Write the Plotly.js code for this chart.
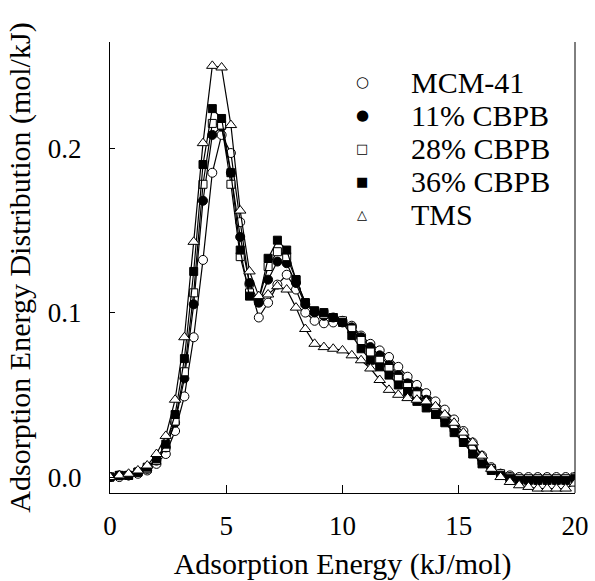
<!DOCTYPE html>
<html>
<head>
<meta charset="utf-8">
<script src="https://cdn.plot.ly/plotly-3.0.1.min.js"></script>
<style>html,body{margin:0;padding:0;background:#fff;}#chart{width:595px;height:581px;}</style>
</head>
<body>
<div id="chart"></div>
<script>
// Adsorption energy grid (kJ/mol)
const energy = [0,0.4,0.8,1.2,1.6,2.0,2.4,2.8,3.2,3.6,4.0,4.4,4.8,5.2,5.6,6.0,6.4,6.8,7.2,7.6,8.0,8.4,8.8,9.2,9.6,10.0,10.4,10.8,11.2,11.6,12.0,12.4,12.8,13.2,13.6,14.0,14.4,14.8,15.2,15.6,16.0,16.4,16.8,17.2,17.6,18.0,18.4,18.8,19.2,19.6,20.0];

const seriesNames = ["MCM-41", "11% CBPB", "28% CBPB", "36% CBPB", "TMS"];
const legendGlyphs = ["\u25CB", "\u25CF", "\u25A1", "\u25A0", "\u25B3"];

const mcm41 = [0.000,0.000,0.001,0.002,0.004,0.008,0.014,0.028,0.049,0.085,0.132,0.185,0.208,0.197,0.155,0.117,0.097,0.106,0.117,0.123,0.114,0.100,0.095,0.0935,0.094,0.094,0.092,0.086,0.081,0.077,0.073,0.067,0.061,0.056,0.051,0.046,0.041,0.035,0.028,0.021,0.013,0.006,0.002,0.001,0.000,0.000,0.000,0.000,0.000,0.000,0.000];

const cbpb11 = [0.000,0.001,0.001,0.003,0.005,0.010,0.018,0.033,0.060,0.105,0.168,0.208,0.213,0.185,0.146,0.118,0.106,0.120,0.131,0.130,0.118,0.105,0.100,0.098,0.097,0.095,0.091,0.085,0.079,0.074,0.068,0.062,0.057,0.052,0.047,0.042,0.037,0.031,0.025,0.018,0.011,0.005,0.002,0.000,-0.002,-0.002,-0.002,-0.002,-0.002,-0.002,-0.001];

const cbpb28 = [0.000,0.001,0.001,0.003,0.005,0.010,0.018,0.034,0.064,0.112,0.178,0.215,0.214,0.178,0.134,0.112,0.108,0.128,0.137,0.134,0.120,0.106,0.101,0.099,0.097,0.095,0.090,0.083,0.076,0.071,0.066,0.060,0.055,0.050,0.045,0.041,0.036,0.030,0.024,0.017,0.010,0.005,0.002,0.000,-0.001,-0.001,-0.001,-0.001,-0.001,-0.001,0.000];

const cbpb36 = [0.000,0.001,0.001,0.003,0.006,0.011,0.020,0.038,0.072,0.125,0.190,0.224,0.218,0.185,0.138,0.110,0.108,0.133,0.144,0.138,0.120,0.106,0.101,0.100,0.097,0.094,0.086,0.078,0.071,0.067,0.062,0.056,0.052,0.046,0.042,0.038,0.033,0.027,0.021,0.014,0.008,0.004,0.001,-0.001,-0.002,-0.002,-0.002,-0.002,-0.002,-0.002,-0.001];

const tms = [0.000,0.001,0.002,0.004,0.007,0.014,0.025,0.047,0.085,0.143,0.203,0.250,0.249,0.214,0.162,0.125,0.110,0.111,0.116,0.114,0.103,0.090,0.081,0.079,0.078,0.077,0.074,0.071,0.066,0.059,0.053,0.050,0.048,0.047,0.046,0.043,0.038,0.033,0.027,0.021,0.013,0.005,0.000,-0.003,-0.005,-0.006,-0.007,-0.007,-0.007,-0.007,-0.004];

const allSeries = [mcm41, cbpb11, cbpb28, cbpb36, tms];
const symbols = ["circle", "circle", "square", "square", "triangle-up"];
const filled = [false, true, false, true, false];
const sizes = [9, 9, 8, 8, 10];
const glyphSizes = [15, 15, 13, 13, 13];

const FONT = "Liberation Serif";
const traces = [];
allSeries.forEach((ys, i) => {
  traces.push({
    x: energy, y: ys, type: "scatter", mode: "lines",
    line: {color: "#000", width: 1.2},
    showlegend: false, hoverinfo: "skip"
  });
  traces.push({
    x: energy, y: ys, type: "scatter", mode: "markers",
    name: seriesNames[i], showlegend: false,
    marker: {
      symbol: symbols[i], size: sizes[i],
      color: filled[i] ? "#000" : "#fff",
      line: {color: "#000", width: 1}
    }
  });
});

// Legend built as text annotations (names + symbol glyphs)
const annotations = [];
seriesNames.forEach((nm, i) => {
  const yy = 0.9113 - i * 0.0732;
  annotations.push({xref: "paper", yref: "paper", x: 0.542, y: yy, xanchor: "center", yanchor: "middle",
    text: legendGlyphs[i], showarrow: false, font: {family: "DejaVu Sans", size: glyphSizes[i], color: "#000"}});
  annotations.push({xref: "paper", yref: "paper", x: 0.643, y: yy, xanchor: "left", yanchor: "middle",
    text: nm, showarrow: false, font: {family: FONT, size: 30, color: "#000"}});
});

const layout = {
  width: 595, height: 581,
  margin: {l: 110, r: 20, t: 42, b: 88},
  paper_bgcolor: "#fff", plot_bgcolor: "#fff",
  font: {family: FONT, color: "#000", size: 27},
  showlegend: false,
  annotations: annotations,
  xaxis: {
    range: [0, 20], tickvals: [0,5,10,15,20], ticktext: ["0","5","10","15","20"],
    ticks: "inside", ticklen: 8, tickwidth: 1, tickcolor: "#000",
    showline: true, linecolor: "#000", linewidth: 1,
    showgrid: false, zeroline: false, ticklabelstandoff: 9,
    tickfont: {family: FONT, size: 27},
    title: {text: "Adsorption Energy (kJ/mol)", font: {family: FONT, size: 30}, standoff: 12}
  },
  yaxis: {
    range: [-0.0097, 0.2645], tickvals: [0, 0.1, 0.2], ticktext: ["0.0","0.1","0.2"],
    ticks: "inside", ticklen: 5, tickwidth: 1, tickcolor: "#000",
    showline: true, linecolor: "#000", linewidth: 1,
    showgrid: false, zeroline: false, ticklabelstandoff: 22,
    tickfont: {family: FONT, size: 27},
    title: {text: "Adsorption Energy Distribution (mol/kJ)", font: {family: FONT, size: 30}, standoff: 8}
  },
  shapes: [
    {type: "line", xref: "paper", yref: "paper", x0: 1, x1: 1, y0: 0, y1: 1, line: {color: "#000", width: 1}}
  ]
};

Plotly.newPlot("chart", traces, layout, {displayModeBar: false, staticPlot: true});
</script>
</body>
</html>
